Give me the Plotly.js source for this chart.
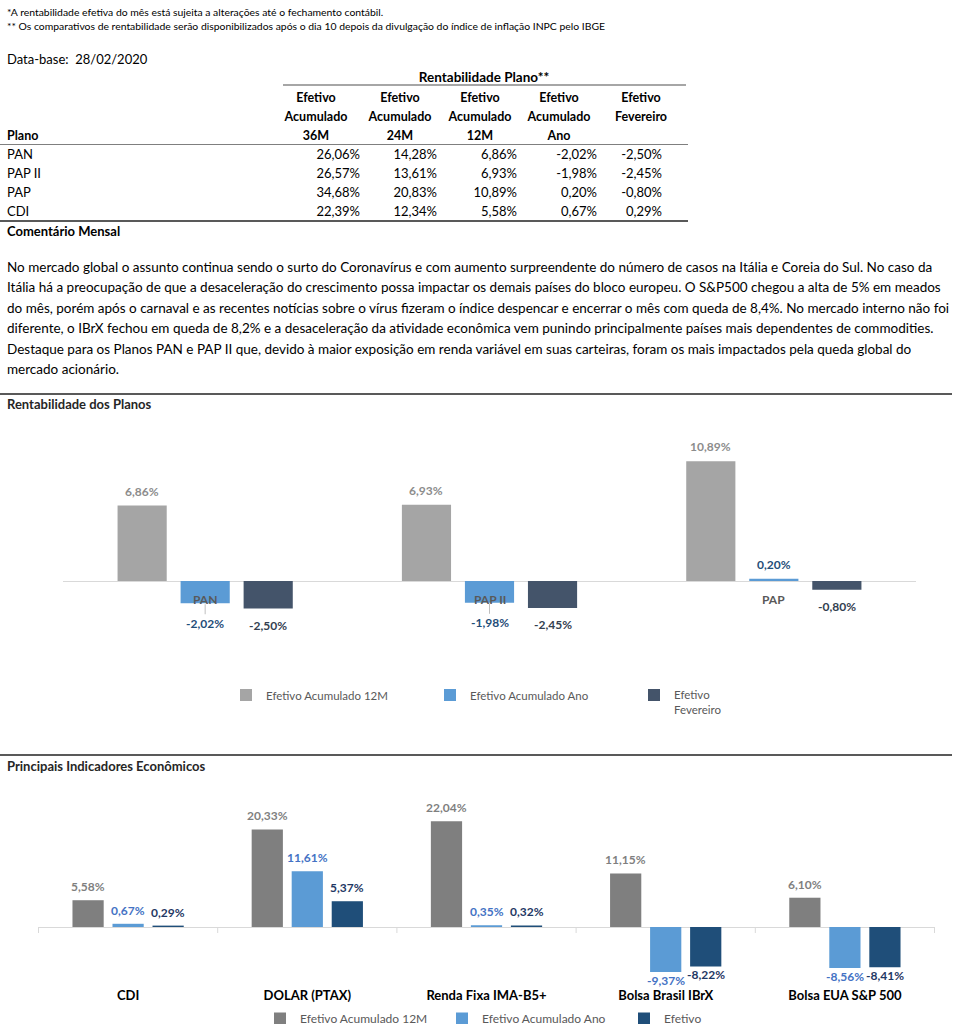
<!DOCTYPE html>
<html><head><meta charset="utf-8">
<script src="https://cdn.plot.ly/plotly-3.0.1.min.js"></script>
<style>
body{margin:0;width:959px;height:1024px;overflow:hidden;background:#fff;font-family:Lato,"Liberation Sans",sans-serif;color:#000;position:relative}
.t{position:absolute;white-space:pre}
.hr{position:absolute;height:0}
</style></head><body>
<div id="page"></div>
<div id="c1" style="position:absolute;left:0;top:410px;width:959px;height:340px"></div>
<div id="c2" style="position:absolute;left:0;top:775px;width:959px;height:249px"></div>
<script>
// ---------- DATA ----------
const notas = [
  '*A rentabilidade efetiva do mês está sujeita a alterações até o fechamento contábil.',
  '** Os comparativos de rentabilidade serão disponibilizados após o dia 10 depois da divulgação do índice de inflação INPC pelo IBGE'
];
const dataBase = 'Data-base:  28/02/2020';
const tituloTabela = 'Rentabilidade Plano**';
const colunasTabela = [['Efetivo','Acumulado','36M'],['Efetivo','Acumulado','24M'],['Efetivo','Acumulado','12M'],['Efetivo','Acumulado','Ano'],['Efetivo','Fevereiro']];
const planos = ['PAN','PAP II','PAP','CDI'];
const acum36M = [26.06, 26.57, 34.68, 22.39];
const acum24M = [14.28, 13.61, 20.83, 12.34];
const acum12M = [6.86, 6.93, 10.89, 5.58];
const acumAno = [-2.02, -1.98, 0.20, 0.67];
const efetFev = [-2.50, -2.45, -0.80, 0.29];
const comentarioTitulo = 'Comentário Mensal';
const comentario = [
  'No mercado global o assunto continua sendo o surto do Coronavírus e com aumento surpreendente do número de casos na Itália e Coreia do Sul. No caso da',
  'Itália há a preocupação de que a desaceleração do crescimento possa impactar os demais países do bloco europeu. O S&P500 chegou a alta de 5% em meados',
  'do mês, porém após o carnaval e as recentes notícias sobre o vírus fizeram o índice despencar e encerrar o mês com queda de 8,4%. No mercado interno não foi',
  'diferente, o IBrX fechou em queda de 8,2% e a desaceleração da atividade econômica vem punindo principalmente países mais dependentes de commodities.',
  'Destaque para os Planos PAN e PAP II que, devido à maior exposição em renda variável em suas carteiras, foram os mais impactados pela queda global do',
  'mercado acionário.'
];
const titulo1 = 'Rentabilidade dos Planos';
const grafPlanos = ['PAN','PAP II','PAP'];
const graf12M = [6.86, 6.93, 10.89];
const grafAno = [-2.02, -1.98, 0.20];
const grafFev = [-2.50, -2.45, -0.80];
const nomes1 = ['Efetivo Acumulado 12M','Efetivo Acumulado Ano','Efetivo<br>Fevereiro'];

const titulo2 = 'Principais Indicadores Econômicos';
const indicadores = ['CDI','DOLAR (PTAX)','Renda Fixa IMA-B5+','Bolsa Brasil IBrX','Bolsa EUA S&P 500'];
const ind12M = [5.58, 20.33, 22.04, 11.15, 6.10];
const indAno = [0.67, 11.61, 0.35, -9.37, -8.56];
const indMes = [0.29, 5.37, 0.32, -8.22, -8.41];
const nomes2 = ['Efetivo Acumulado 12M','Efetivo Acumulado Ano','Efetivo'];

// ---------- STYLES ----------
const cores1 = ['#a5a5a5','#5b9bd5','#44546a'];
const rotulos1 = ['#8c8c8c','#1f4e79','#333f50'];
const cores2 = ['#7f7f7f','#5b9bd5','#1f4e79'];
const rotulos2 = ['#7f7f7f','#4472c4','#1f3864'];
const fmt = v => v.toFixed(2).replace('.', ',') + '%';

// ---------- PAGE TEXT ----------
const page = document.getElementById('page');
function T(x, yc, text, o) {
  o = o || {};
  const size = o.size || 13, lh = Math.round(size + 6);
  const d = document.createElement('div');
  d.className = 't';
  d.textContent = text;
  d.style.left = x + 'px';
  d.style.top = (yc - lh / 2) + 'px';
  d.style.fontSize = size + 'px';
  d.style.lineHeight = lh + 'px';
  if (o.bold) d.style.fontWeight = 'bold';
  if (o.color) d.style.color = o.color;
  if (o.align === 'right') d.style.transform = 'translateX(-100%)';
  if (o.align === 'center') d.style.transform = 'translateX(-50%)';
  page.appendChild(d);
  return d;
}
function H(x0, x1, y, w, c) {
  const d = document.createElement('div');
  d.className = 'hr';
  d.style.left = x0 + 'px'; d.style.width = (x1 - x0) + 'px';
  d.style.top = (y - w / 2) + 'px'; d.style.borderTop = w + 'px solid ' + c;
  page.appendChild(d);
}
T(7, 12, notas[0], {size: 10.4});
T(7, 26, notas[1], {size: 10.4});
T(7, 59, dataBase, {size: 13});
T(484, 77, tituloTabela, {size: 13.5, bold: true, align: 'center'});
H(283, 686, 85, 2, '#a6a6a6');
const colCentros = [316, 400, 480, 559, 641];
const colDir = [360, 437, 517, 597, 662];
const hdrY = [97, 116, 135];
colunasTabela.forEach((linhas, c) => linhas.forEach((s, r) => T(colCentros[c], hdrY[r], s, {size: 12.5, bold: true, align: 'center'})));
T(7, 135, 'Plano', {size: 12.5, bold: true});
H(0, 688, 144, 1, '#7f7f7f');
const rowY = [154, 173, 192, 211];
const colunasValores = [acum36M, acum24M, acum12M, acumAno, efetFev];
planos.forEach((p, r) => {
  T(7, rowY[r], p, {size: 13});
  colunasValores.forEach((arr, c) => T(colDir[c], rowY[r], fmt(arr[r]), {size: 13, align: 'right'}));
});
H(0, 688, 221, 2, '#595959');
T(7, 231, comentarioTitulo, {size: 13, bold: true});
const linhasCom = comentario.map((s, i) => T(7, 267 + i * 20.4, s, {size: 14}));
// fit paragraph so the first line spans the reference width
const escala = 926 / linhasCom[0].getBoundingClientRect().width;
linhasCom.forEach(d => { d.style.fontSize = (14 * escala) + 'px'; });
H(0, 952, 394, 2, '#595959');
T(7, 404, titulo1, {size: 13, bold: true, color: '#262626'});
H(0, 952, 755, 2, '#595959');
T(7, 766, titulo2, {size: 13, bold: true, color: '#262626'});

// ---------- CHART LABEL HELPERS ----------
function labels(cats, series, colors, slot, upShift, downShift, size, leader) {
  const ann = [];
  series.forEach((vals, i) => vals.forEach((v, k) => {
    const a = {
      x: cats[k], y: v, xref: 'x', yref: 'y', xshift: (i - 1) * slot,
      yshift: v >= 0 ? upShift : -downShift, yanchor: v >= 0 ? 'bottom' : 'top',
      showarrow: false, text: fmt(v), font: {family: 'Lato', size: size, color: colors[i], weight: 'bold'}
    };
    if (leader && leader(i, v)) {
      Object.assign(a, {showarrow: true, arrowhead: 0, arrowwidth: 1, arrowcolor: '#bfbfbf', ax: 0, ay: 20,
        yshift: 0, yanchor: 'middle', standoff: 1});
    }
    ann.push(a);
  }));
  return ann;
}

// ---------- CHART 1 ----------
const L1 = {l: 63, r: 43, t: 20, b: 90, w: 959, h: 340};
const pw1 = L1.w - L1.l - L1.r, ph1 = L1.h - L1.t - L1.b;
const gap1 = 0.335, ggap1 = 0.22;
const slot1 = pw1 / grafPlanos.length * (1 - gap1) / 3;
const s1 = [graf12M, grafAno, grafFev];
const traces1 = s1.map((vals, i) => ({type: 'bar', x: grafPlanos, y: vals, name: nomes1[i], marker: {color: cores1[i]}, hoverinfo: 'none'}));
const ann1 = labels(grafPlanos, s1, rotulos1, slot1, 5, 7, 12, (i, v) => i === 1 && v < 0);
grafPlanos.forEach(c => ann1.push({x: c, y: 0, xref: 'x', yref: 'y', yanchor: 'top', yshift: -9, showarrow: false, text: c,
  font: {family: 'Lato', size: 12, color: '#595959', weight: 'bold'}}));
Plotly.newPlot('c1', traces1, {
  width: L1.w, height: L1.h, margin: {l: L1.l, r: L1.r, t: L1.t, b: L1.b, autoexpand: false},
  paper_bgcolor: '#fff', plot_bgcolor: '#fff', barmode: 'group', bargap: gap1, bargroupgap: ggap1,
  xaxis: {showticklabels: false, showgrid: false, showline: false, ticks: '', zeroline: false},
  yaxis: {range: [-7.18, 13.73], showgrid: false, showticklabels: false, zeroline: true, zerolinecolor: '#d9d9d9', zerolinewidth: 1},
  annotations: ann1,
  showlegend: true,
  legend: {orientation: 'h', x: (226 - L1.l) / pw1, xanchor: 'left', y: -(21 / ph1), yanchor: 'top', valign: 'top',
    entrywidth: 159, entrywidthmode: 'pixels', font: {family: 'Lato', size: 11.5, color: '#595959'}, traceorder: 'normal'},
  font: {family: 'Lato'}
}, {staticPlot: true, displayModeBar: false});

// ---------- CHART 2 ----------
const L2 = {l: 38, r: 24, t: 15, b: 44, w: 959, h: 249};
const pw2 = L2.w - L2.l - L2.r, ph2 = L2.h - L2.t - L2.b;
const gap2 = 0.33, ggap2 = 0.22;
const slot2 = pw2 / indicadores.length * (1 - gap2) / 3;
const s2 = [ind12M, indAno, indMes];
const traces2 = s2.map((vals, i) => ({type: 'bar', x: indicadores, y: vals, name: nomes2[i], marker: {color: cores2[i]}, hoverinfo: 'none'}));
const ann2 = labels(indicadores, s2, rotulos2, slot2, 4, -1, 12);
const ticks2 = [];
for (let k = 0; k <= indicadores.length; k++) ticks2.push({type: 'line', xref: 'x', yref: 'y', x0: k - 0.5, x1: k - 0.5,
  ysizemode: 'pixel', yanchor: 0, y0: 0, y1: -6, line: {color: '#d9d9d9', width: 1}});
Plotly.newPlot('c2', traces2, {
  width: L2.w, height: L2.h, margin: {l: L2.l, r: L2.r, t: L2.t, b: L2.b, autoexpand: false},
  paper_bgcolor: '#fff', plot_bgcolor: '#fff', barmode: 'group', bargap: gap2, bargroupgap: ggap2,
  xaxis: {showgrid: false, showline: false, ticks: '', zeroline: false, ticklabelstandoff: 6,
    tickfont: {family: 'Lato', size: 13, color: '#000', weight: 'bold'}},
  yaxis: {range: [-11.04, 28.54], showgrid: false, showticklabels: false, zeroline: true, zerolinecolor: '#d9d9d9', zerolinewidth: 1},
  annotations: ann2, shapes: ticks2,
  showlegend: true,
  legend: {orientation: 'h', x: (260 - L2.l) / pw2, xanchor: 'left', y: -(24 / ph2), yanchor: 'top',
    entrywidth: 137, entrywidthmode: 'pixels', font: {family: 'Lato', size: 12, color: '#595959'}, traceorder: 'normal'},
  font: {family: 'Lato'}
}, {staticPlot: true, displayModeBar: false});
</script>
</body></html>
